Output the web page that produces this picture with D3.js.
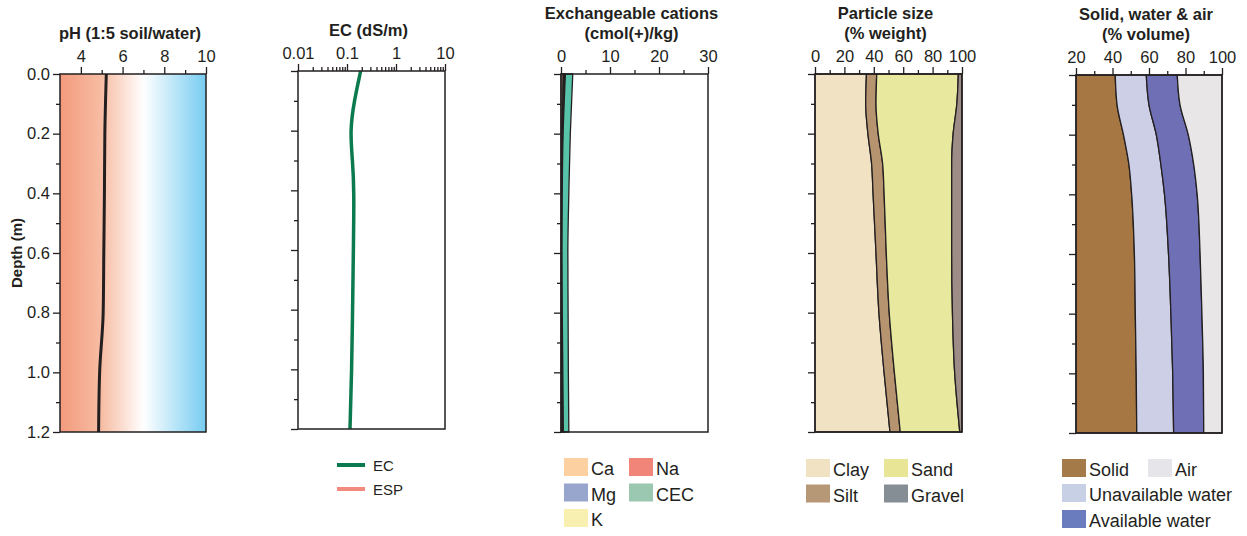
<!doctype html>
<html lang="en">
<head>
    <meta charset="UTF-8">
    <title>Soil profile</title>
    <style>
        body { margin: 0; background: #fff; }
        svg text { font-family: "Liberation Sans", Arial, Helvetica, sans-serif; fill: #231f20; }
        .title { font-weight: bold; font-size: 16.5px; }
        .tick text { font-size: 16.5px; }
        .legend text { font-size: 18px; }
        .frame { fill: none; stroke: #231f20; stroke-width: 1.5px; }
    </style>
</head>
<body>
    <svg width="1247" height="536"></svg>
    <script src="https://cdn.jsdelivr.net/npm/d3@7/dist/d3.min.js"></script>
    <script>
        // depth ticks (m)
        const depthMajor = [0, 0.2, 0.4, 0.6, 0.8, 1.0, 1.2];
        const depthMinor = [0.1, 0.3, 0.5, 0.7, 0.9, 1.1];

        // pH (1:5 soil/water)
        const phDepth = [0, 0.2, 0.4, 0.6, 0.8, 1.0, 1.2];
        const phValues = [5.22, 5.15, 5.13, 5.1, 5.07, 4.9, 4.85];
        const phTicks = [4, 6, 8, 10];

        // EC (dS/m)
        const ecDepth = [0, 0.1, 0.2, 0.3, 0.4, 0.6, 0.8, 1.0, 1.2];
        const ecValues = [0.19, 0.14, 0.115, 0.13, 0.14, 0.135, 0.13, 0.125, 0.115];
        const ecTicks = [0.01, 0.1, 1, 10];

        // exchangeable cations (cmol(+)/kg)
        const catDepth = [0, 0.2, 0.4, 0.6, 0.8, 1.0, 1.2];
        const caValues = [0.45, 0.25, 0.15, 0.1, 0.1, 0.15, 0.2];
        const mgValues = [0.25, 0.1, 0.05, 0.05, 0.1, 0.15, 0.2];
        const naValues = [0.05, 0.03, 0.02, 0.02, 0.03, 0.04, 0.05];
        const kValues = [0.15, 0.05, 0.03, 0.03, 0.03, 0.03, 0.03];
        const cecValues = [2.4, 1.9, 1.6, 1.4, 1.45, 1.5, 1.6];
        const catTicks = [0, 10, 20, 30];

        // particle size (% weight)
        const psDepth = [0, 0.1, 0.2, 0.3, 0.4, 0.6, 0.8, 1.0, 1.2];
        const clayValues = [35, 34.5, 36, 38.5, 39.5, 41.5, 43.5, 47, 51];
        const siltValues = [7, 7, 7, 7.5, 7.5, 7, 7, 7, 7];
        const sandValues = [55.5, 55, 51, 47, 46, 44.5, 43, 41, 40.5];
        const gravelValues = [2.5, 3.5, 6, 7, 7, 7, 6.5, 5, 1.5];
        const psTicks = [0, 20, 40, 60, 80, 100];

        // solid, water & air (% volume)
        const swDepth = [0, 0.1, 0.2, 0.3, 0.4, 0.6, 0.8, 1.0, 1.2];
        const solidValues = [41.5, 42.5, 46, 49, 50.5, 52, 52.5, 53, 53.3];
        const unavailValues = [17, 17.5, 18, 17.5, 18, 18.7, 19.5, 20, 20.2];
        const availValues = [17, 17, 17.5, 18, 17.9, 17.3, 17, 16.8, 16.5];
        const airValues = [24.5, 23, 18.5, 15.5, 13.6, 12, 11, 10.2, 10];
        const swTicks = [20, 40, 60, 80, 100];

        const ink = "#231f20";
        const svg = d3.select("svg");

        function panel(x, yTop, title) {
            const y = d3.scaleLinear().domain([0, 1.2]).range([yTop, yTop + 358]);
            const g = svg.append("g");
            const cx = (x.range()[0] + x.range()[1]) / 2 - 3;
            title.forEach((t, i) => {
                g.append("text").attr("class", "title")
                    .attr("x", cx).attr("y", yTop - 35 + (i - title.length + 1) * 20)
                    .attr("text-anchor", "middle").text(t);
            });
            return {g: g, x: x, y: y};
        }

        function axes(p, major, minor, fmt, showDepth) {
            const [x0, x1] = p.x.range();
            const [y0, y1] = p.y.range();
            const top = p.g.append("g").attr("transform", "translate(0," + y0 + ")");
            top.call(d3.axisTop(p.x).tickValues(major).tickSize(7).tickPadding(5).tickFormat(fmt));
            top.append("g").call(d3.axisTop(p.x).tickValues(minor).tickSize(4).tickFormat(""));
            const left = p.g.append("g").attr("transform", "translate(" + x0 + ",0)");
            left.call(d3.axisLeft(p.y).tickValues(depthMajor).tickSize(7).tickPadding(3)
                .tickFormat(showDepth ? d3.format(".1f") : ""));
            left.append("g").call(d3.axisLeft(p.y).tickValues(depthMinor).tickSize(4).tickFormat(""));
            p.g.selectAll(".domain").remove();
            p.g.selectAll(".tick line").attr("stroke", ink).attr("stroke-width", 1.3);
            p.g.selectAll(".tick text").attr("fill", ink);
            p.g.append("rect").attr("class", "frame")
                .attr("x", x0).attr("y", y0).attr("width", x1 - x0).attr("height", y1 - y0);
        }

        function legendBoxes(items, x, y, colW) {
            const lg = svg.append("g").attr("class", "legend");
            items.forEach((it, i) => {
                const col = i % 2, row = Math.floor(i / 2);
                const gx = x + col * colW, gy = y + row * 25.5;
                lg.append("rect").attr("x", gx).attr("y", gy).attr("width", 24).attr("height", 18)
                    .attr("fill", it[1]);
                lg.append("text").attr("x", gx + 27).attr("y", gy + 17).text(it[0]);
            });
        }

        function stackArea(p, depth, series, keys, colors) {
            const rows = depth.map((d, i) => {
                const r = {depth: d};
                keys.forEach((k, j) => r[k] = series[j][i]);
                return r;
            });
            const stacked = d3.stack().keys(keys)(rows);
            const area = d3.area().curve(d3.curveMonotoneY)
                .y(d => p.y(d.data.depth)).x0(d => p.x(d[0])).x1(d => p.x(d[1]));
            p.g.selectAll(null).data(stacked).join("path")
                .attr("d", area)
                .attr("fill", (d, i) => colors[i])
                .attr("stroke", ink).attr("stroke-width", 1.3).attr("stroke-linejoin", "round");
        }

        // ---- pH ----
        const p1 = panel(d3.scaleLinear().domain([3, 10]).range([60, 206]), 74, ["pH (1:5 soil/water)"]);
        const grad = svg.append("defs").append("linearGradient").attr("id", "phGrad")
            .attr("gradientUnits", "userSpaceOnUse")
            .attr("x1", p1.x(3)).attr("x2", p1.x(10)).attr("y1", 0).attr("y2", 0);
        [[3, "#f39a7c"], [5, "#f7bda4"], [7, "#ffffff"], [10, "#76ccf1"]].forEach(s => {
            grad.append("stop").attr("offset", (s[0] - 3) / 7).attr("stop-color", s[1]);
        });
        p1.g.append("rect").attr("x", p1.x(3)).attr("y", p1.y(0))
            .attr("width", p1.x(10) - p1.x(3)).attr("height", p1.y(1.2) - p1.y(0))
            .attr("fill", "url(#phGrad)");
        p1.g.append("path").datum(phDepth.map((d, i) => [phValues[i], d]))
            .attr("fill", "none").attr("stroke", ink).attr("stroke-width", 3)
            .attr("d", d3.line().curve(d3.curveMonotoneY).x(d => p1.x(d[0])).y(d => p1.y(d[1])));
        axes(p1, phTicks, [5, 7, 9], d3.format("d"), true);
        svg.append("text").attr("class", "title")
            .attr("transform", "translate(22," + p1.y(0.6) + ") rotate(-90)")
            .attr("text-anchor", "middle").style("font-size", "15px").text("Depth (m)");

        // ---- EC ----
        const p2 = panel(d3.scaleLog().domain([0.01, 10]).range([298, 445]), 71, ["EC (dS/m)"]);
        const ecMinor = [];
        [0.01, 0.1, 1].forEach(b => { for (let k = 2; k <= 9; k++) ecMinor.push(b * k); });
        p2.g.append("path").datum(ecDepth.map((d, i) => [ecValues[i], d]))
            .attr("fill", "none").attr("stroke", "#0b7a4e").attr("stroke-width", 3.5)
            .attr("d", d3.line().curve(d3.curveBasis).x(d => p2.x(d[0])).y(d => p2.y(d[1])));
        axes(p2, ecTicks, ecMinor, d => String(d), false);
        const ecLeg = svg.append("g").attr("class", "legend");
        [["EC", "#0b7a4e"], ["ESP", "#f28b7d"]].forEach((it, i) => {
            ecLeg.append("line").attr("x1", 337).attr("x2", 365)
                .attr("y1", 465 + i * 24).attr("y2", 465 + i * 24)
                .attr("stroke", it[1]).attr("stroke-width", 4);
            ecLeg.append("text").attr("x", 373).attr("y", 471 + i * 24)
                .style("font-size", "15px").text(it[0]);
        });

        // ---- exchangeable cations ----
        const p3 = panel(d3.scaleLinear().domain([0, 30]).range([561, 708]), 74,
            ["Exchangeable cations", "(cmol(+)/kg)"]);
        const catSum = catDepth.map((d, i) => caValues[i] + mgValues[i] + naValues[i] + kValues[i]);
        stackArea(p3, catDepth,
            [caValues, mgValues, naValues, kValues, cecValues.map((c, i) => c - catSum[i])],
            ["Ca", "Mg", "Na", "K", "CEC"],
            ["#fdd0a2", "#98a5cc", "#f2857a", "#f7f0b0", "#57c3a8"]);
        axes(p3, catTicks, [5, 15, 25], d3.format("d"), false);
        legendBoxes([["Ca", "#fdd0a2"], ["Na", "#f2857a"], ["Mg", "#98a5cc"], ["CEC", "#9bc8b0"], ["K", "#f7f0b0"]],
            564, 458, 65);

        // ---- particle size ----
        const p4 = panel(d3.scaleLinear().domain([0, 100]).range([815, 962]), 74,
            ["Particle size", "(% weight)"]);
        stackArea(p4, psDepth, [clayValues, siltValues, sandValues, gravelValues],
            ["Clay", "Silt", "Sand", "Gravel"], ["#f1e2c4", "#b69470", "#e8e89e", "#9d8d86"]);
        axes(p4, psTicks, [10, 30, 50, 70, 90], d3.format("d"), false);
        legendBoxes([["Clay", "#f1e2c4"], ["Sand", "#e8e596"], ["Silt", "#b69876"], ["Gravel", "#858e95"]],
            806, 459, 78);

        // ---- solid, water & air ----
        // clamp so the solid layer (from 0 %) starts at the 20 % frame edge
        const p5 = panel(d3.scaleLinear().domain([20, 100]).range([1076, 1222]).clamp(true), 75,
            ["Solid, water & air", "(% volume)"]);
        stackArea(p5, swDepth, [solidValues, unavailValues, availValues, airValues],
            ["Solid", "Unavailable", "Available", "Air"], ["#a67743", "#cccfe6", "#6f6fb5", "#e9e6e8"]);
        axes(p5, swTicks, [30, 50, 70, 90], d3.format("d"), false);
        const swLeg = svg.append("g").attr("class", "legend");
        [["Solid", "#a47a48", 1062, 459], ["Air", "#e5e5ea", 1148, 459],
         ["Unavailable water", "#c8d0e6", 1062, 484], ["Available water", "#6a7cbd", 1062, 510]].forEach(it => {
            swLeg.append("rect").attr("x", it[2]).attr("y", it[3]).attr("width", 24).attr("height", 18)
                .attr("fill", it[1]);
            swLeg.append("text").attr("x", it[2] + 27).attr("y", it[3] + 17).text(it[0]);
        });
    </script>
</body>
</html>
